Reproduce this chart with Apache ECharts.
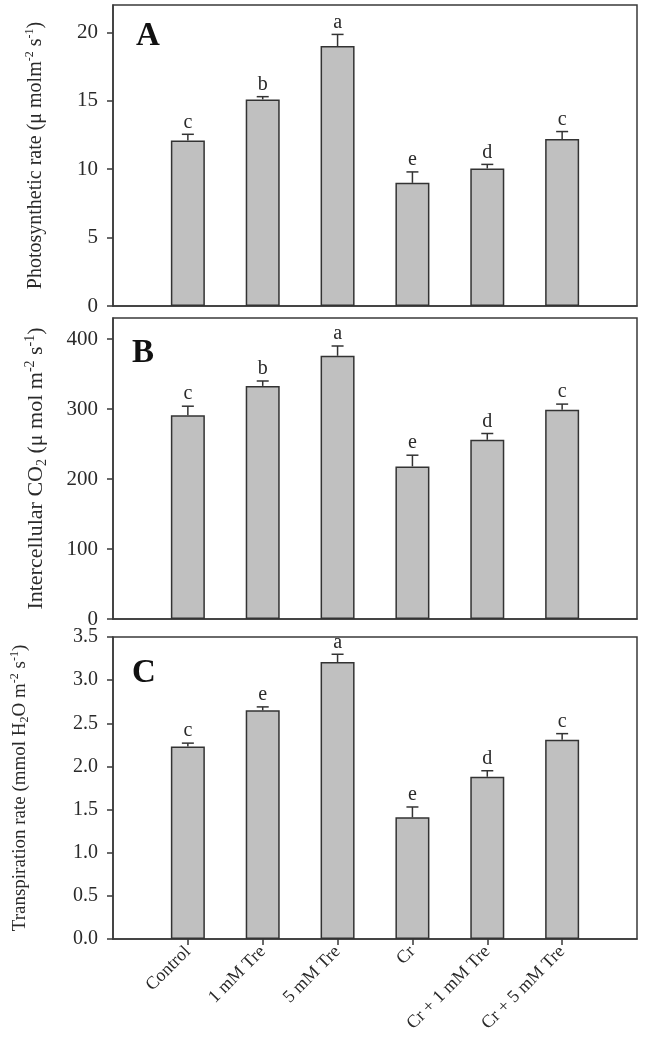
<!DOCTYPE html>
<html>
<head>
<meta charset="utf-8">
<script src="https://cdn.jsdelivr.net/npm/echarts@6/dist/echarts.min.js"></script>
<style>
html,body{margin:0;padding:0;background:#fff;}
#c{width:646px;height:1041px;}
</style>
</head>
<body>
<div id="c"></div>
<script>
const categories = ['Control', '1 mM Tre', '5 mM Tre', 'Cr', 'Cr + 1 mM Tre', 'Cr + 5 mM Tre'];

const photoValues = [12.1, 15.1, 19.0, 9.0, 10.05, 12.2];
const photoErrors = [0.45, 0.2, 0.85, 0.8, 0.3, 0.55];
const photoLetters = ['c', 'b', 'a', 'e', 'd', 'c'];
const photoTicks = [0, 5, 10, 15, 20];

const co2Values = [291, 333, 376, 218, 256, 299];
const co2Errors = [13, 7, 14, 16, 9, 8];
const co2Letters = ['c', 'b', 'a', 'e', 'd', 'c'];
const co2Ticks = [0, 100, 200, 300, 400];

const transValues = [2.23, 2.65, 3.21, 1.41, 1.88, 2.31];
const transErrors = [0.04, 0.04, 0.09, 0.12, 0.07, 0.07];
const transLetters = ['c', 'e', 'a', 'e', 'd', 'c'];
const transTicks = [0, 0.5, 1.0, 1.5, 2.0, 2.5, 3.0, 3.5];

const FONT = '"Liberation Serif", "Times New Roman", serif';
const INK = '#2a2a2a';
const BAR = '#c0c0c0';

const chart = echarts.init(document.getElementById('c'), null, {renderer: 'canvas'});

const grids = [
  {left: 113, top: 5, width: 524, height: 301},
  {left: 113, top: 318, width: 524, height: 301},
  {left: 113, top: 637, width: 524, height: 302}
].map(g => Object.assign({show: true, borderColor: '#3a3a3a', borderWidth: 1.5, backgroundColor: 'transparent'}, g));

function xAxis(i, showLabels) {
  return {
    type: 'value', gridIndex: i, min: 0, max: 7, interval: 1,
    splitLine: {show: false},
    axisLine: {show: true, lineStyle: {color: '#3a3a3a', width: 1.5}},
    axisTick: {show: showLabels, length: 6, customValues: [1, 2, 3, 4, 5, 6], lineStyle: {color: '#3a3a3a', width: 1.5}},
    axisLabel: {
      show: showLabels, customValues: [1, 2, 3, 4, 5, 6], rotate: 45, margin: 10,
      fontFamily: FONT, fontSize: 18, color: INK,
      formatter: v => categories[Math.round(v) - 1] || ''
    }
  };
}

function yAxis(i, max, interval, ticks, name, nameGap, nameSize, labelSize, decimals) {
  const small = Math.round(nameSize * 0.62);
  return {
    type: 'value', gridIndex: i, min: 0, max: max, interval: interval,
    splitLine: {show: false},
    axisLine: {show: true, lineStyle: {color: '#3a3a3a', width: 1.5}},
    axisTick: {show: true, length: 6, inside: false, customValues: ticks, lineStyle: {color: '#3a3a3a', width: 1.5}},
    axisLabel: {
      customValues: ticks, margin: 15, fontFamily: FONT, fontSize: labelSize, color: INK,
      formatter: v => decimals ? Number(v).toFixed(decimals) : String(v)
    },
    name: name, nameLocation: 'middle', nameRotate: 90, nameGap: nameGap,
    nameTextStyle: {
      fontFamily: FONT, fontSize: nameSize, color: INK,
      rich: {
        sup: {fontFamily: FONT, fontSize: small, color: INK, verticalAlign: 'top', padding: [0, 0, Math.round(nameSize * 0.55), 0]},
        sub: {fontFamily: FONT, fontSize: small, color: INK, verticalAlign: 'bottom', padding: [Math.round(nameSize * 0.45), 0, 0, 0]}
      }
    }
  };
}

function barSeries(i, values) {
  return {
    type: 'bar', xAxisIndex: i, yAxisIndex: i, barWidth: 34,
    data: values.map((v, k) => [k + 1, v]),
    itemStyle: {color: BAR, borderColor: '#333', borderWidth: 1.5},
    silent: true, animation: false
  };
}

function errSeries(i, values, errors, letters) {
  return {
    type: 'custom', xAxisIndex: i, yAxisIndex: i, silent: true, animation: false, z: 5,
    data: values.map((v, k) => [k + 1, v, errors[k]]),
    renderItem: function (params, api) {
      const x = api.value(0), v = api.value(1), e = api.value(2);
      const p0 = api.coord([x, v]);
      const p1 = api.coord([x, v + e]);
      const half = 6;
      return {
        type: 'group',
        children: [
          {type: 'line', shape: {x1: p0[0], y1: p0[1], x2: p1[0], y2: p1[1]}, style: {stroke: '#333', lineWidth: 1.5}},
          {type: 'line', shape: {x1: p1[0] - half, y1: p1[1], x2: p1[0] + half, y2: p1[1]}, style: {stroke: '#333', lineWidth: 1.5}},
          {type: 'text', x: p1[0], y: p1[1] - 2,
           style: {text: letters[params.dataIndex], fontFamily: FONT, fontSize: 20, fill: INK, align: 'center', verticalAlign: 'bottom'}}
        ]
      };
    }
  };
}

const option = {
  backgroundColor: '#fff',
  animation: false,
  grid: grids,
  xAxis: [xAxis(0, false), xAxis(1, false), xAxis(2, true)],
  yAxis: [
    yAxis(0, 22, 5, photoTicks, 'Photosynthetic rate (μ molm{sup|-2} s{sup|-1})', 66, 20, 21, 0),
    yAxis(1, 430, 100, co2Ticks, 'Intercellular CO{sub|2} (μ mol m{sup|-2} s{sup|-1})', 64, 22, 21, 0),
    yAxis(2, 3.5, 0.5, transTicks, 'Transpiration rate (mmol H{sub|2}O m{sup|-2} s{sup|-1})', 82, 19, 20, 1)
  ],
  graphic: [
    {type: 'text', left: 136, top: 20, style: {text: 'A', fontFamily: FONT, fontSize: 33, fontWeight: 'bold', fill: '#111'}},
    {type: 'text', left: 132, top: 337, style: {text: 'B', fontFamily: FONT, fontSize: 33, fontWeight: 'bold', fill: '#111'}},
    {type: 'text', left: 132, top: 657, style: {text: 'C', fontFamily: FONT, fontSize: 33, fontWeight: 'bold', fill: '#111'}}
  ],
  series: [
    barSeries(0, photoValues), errSeries(0, photoValues, photoErrors, photoLetters),
    barSeries(1, co2Values), errSeries(1, co2Values, co2Errors, co2Letters),
    barSeries(2, transValues), errSeries(2, transValues, transErrors, transLetters)
  ]
};
chart.setOption(option);
</script>
</body>
</html>
